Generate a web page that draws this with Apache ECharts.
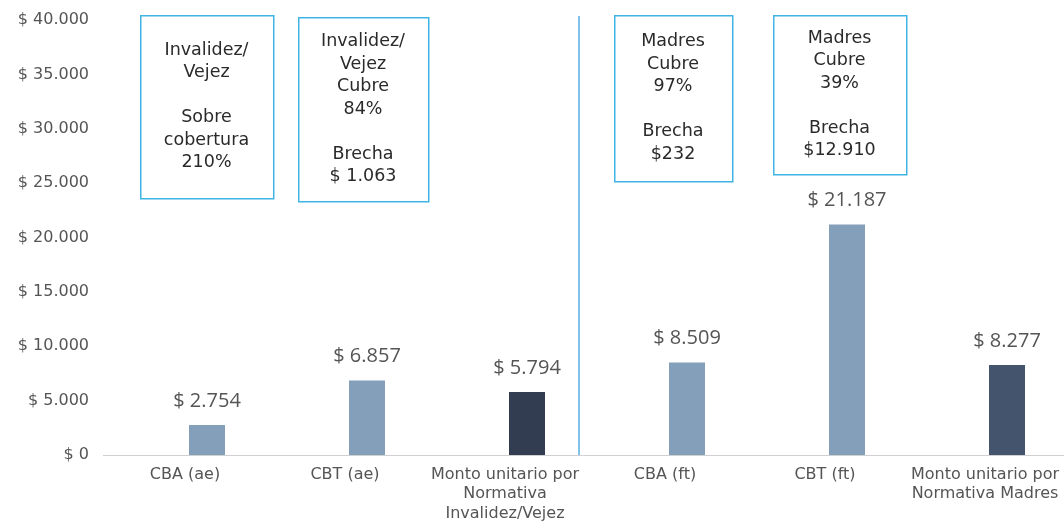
<!DOCTYPE html>
<html>
<head>
<meta charset="utf-8">
<script src="https://cdn.jsdelivr.net/npm/echarts@6/dist/echarts.min.js"></script>
<style>html,body{margin:0;padding:0;background:#fff;}#c{width:1064px;height:521px;}</style>
</head>
<body>
<div id="c"></div>
<script>
const categories = ['CBA (ae)', 'CBT (ae)', 'Monto unitario por\nNormativa\nInvalidez/Vejez', 'CBA (ft)', 'CBT (ft)', 'Monto unitario por\nNormativa Madres'];
const values = [2754, 6857, 5794, 8509, 21187, 8277];
const barColors = ['#849fba', '#849fba', '#323d52', '#849fba', '#849fba', '#44546c'];
const yTicks = [0, 5000, 10000, 15000, 20000, 25000, 30000, 35000, 40000];
const boxTexts = [
  'Invalidez/\nVejez\n\nSobre\ncobertura\n210%',
  'Invalidez/\nVejez\nCubre\n84%\n\nBrecha\n$ 1.063',
  'Madres\nCubre\n97%\n\nBrecha\n$232',
  'Madres\nCubre\n39%\n\nBrecha\n$12.910'
];

function fmt(v) {
  return '$ ' + String(v).replace(/\B(?=(\d{3})+(?!\d))/g, '.');
}

const FONT = 'DejaVu Sans';
const LFONT = 'Open Sans';
const chart = echarts.init(document.getElementById('c'), null, {renderer: 'canvas'});

const boxes = [
  {x: 140, y: 15, w: 133, h: 183},
  {x: 298, y: 17, w: 130, h: 184},
  {x: 614, y: 15, w: 118, h: 166},
  {x: 773, y: 15, w: 133, h: 159}
];

const graphics = [];
boxes.forEach((b, i) => {
  graphics.push({
    type: 'rect', left: b.x, top: b.y,
    shape: {width: b.w, height: b.h},
    style: {fill: '#fff', stroke: '#3fb4e5', lineWidth: 1.5}
  });
  graphics.push({
    type: 'text', x: b.x + b.w / 2, y: b.y + b.h / 2,
    style: {
      text: boxTexts[i], fill: '#2a2a2a', font: '17.5px "' + FONT + '"',
      align: 'center', verticalAlign: 'middle', lineHeight: 22.5
    }
  });
});
// separator line
graphics.push({
  type: 'line', shape: {x1: 579, y1: 16, x2: 579, y2: 455},
  style: {stroke: '#7fc4e8', lineWidth: 2}
});
// axis baseline extension
graphics.push({
  type: 'line', shape: {x1: 103, y1: 455.5, x2: 1064, y2: 455.5},
  style: {stroke: '#d0d0d0', lineWidth: 1}
});

chart.setOption({
  animation: false,
  grid: {left: 127, right: -23, top: 20, bottom: 66, containLabel: false, outerBoundsMode: 'none'},
  xAxis: {
    type: 'category', data: categories,
    axisLine: {show: false}, axisTick: {show: false},
    axisLabel: {
      interval: 0, color: '#555', fontFamily: FONT, fontSize: 16,
      margin: 10, lineHeight: 19.5, verticalAlign: 'top',
      padding: [0, 44, 0, 0]
    }
  },
  yAxis: {
    type: 'value', min: 0, max: 40000, interval: 5000,
    splitLine: {show: false}, axisLine: {show: false}, axisTick: {show: false},
    axisLabel: {
      color: '#555', fontFamily: FONT, fontSize: 16, margin: 38,
      formatter: v => fmt(v)
    }
  },
  series: [{
    type: 'bar', barWidth: 36,
    data: values.map((v, i) => ({value: v, itemStyle: {color: barColors[i]}})),
    label: {
      show: true, position: 'top', distance: 14,
      color: '#555', fontFamily: LFONT, fontSize: 20,
      formatter: p => fmt(p.value)
    }
  }],
  graphic: graphics
});
</script>
</body>
</html>
